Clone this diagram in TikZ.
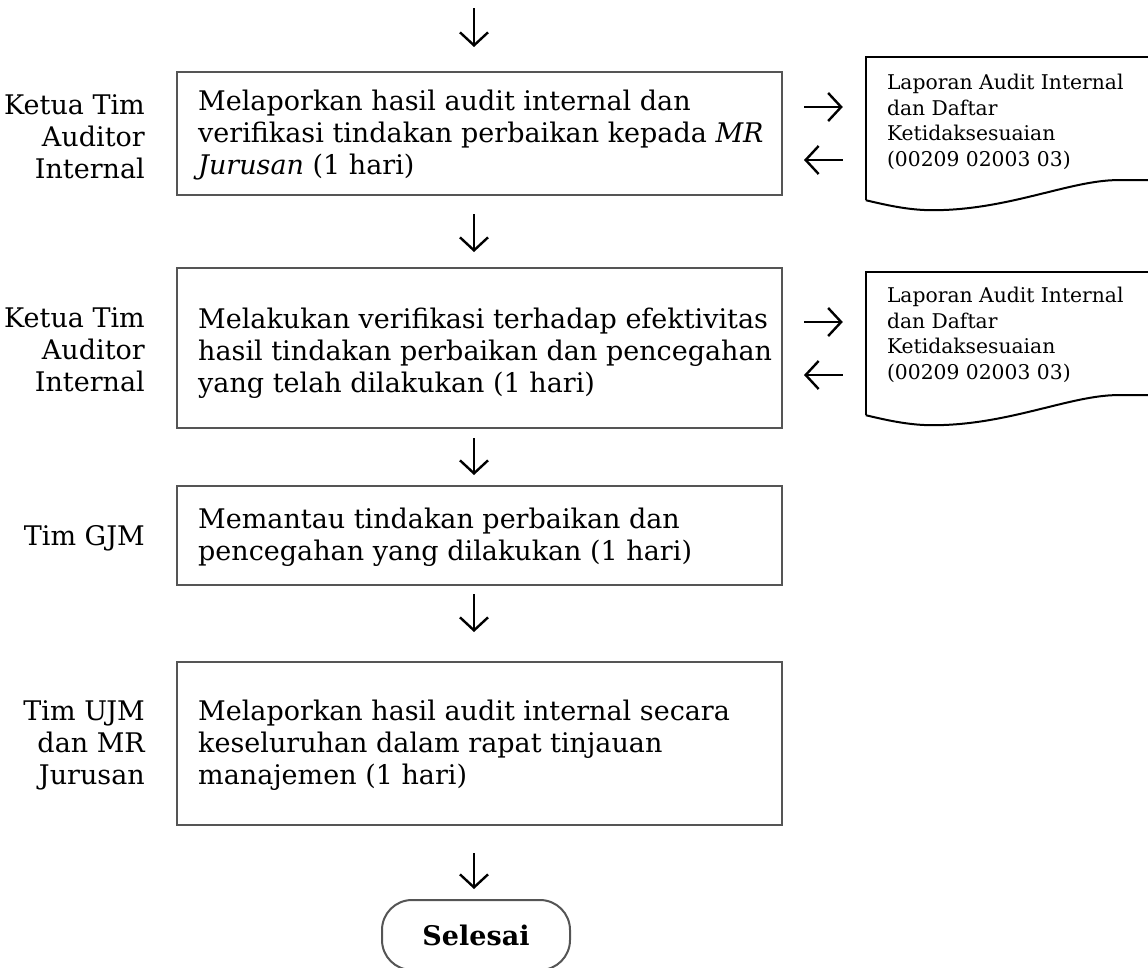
\documentclass[tikz,border=0pt]{standalone}
\usepackage{fontspec}
\setmainfont{DejaVu Serif}
\usetikzlibrary{arrows.meta,calc}
\definecolor{boxgray}{HTML}{555555}
\newcommand\mainsz{\fontsize{27}{32}\selectfont}
\newcommand\docsz{\fontsize{20.3}{25.7}\selectfont}
\begin{document}
\begin{tikzpicture}[x=1pt,y=-1pt,
  box/.style={draw=boxgray, line width=2pt, minimum width=605pt, inner sep=0pt},
  boxtext/.style={anchor=west, align=left, font=\mainsz, inner sep=0pt},
  lbl/.style={anchor=east, align=right, font=\mainsz, inner sep=0pt},
  docarea/.style={minimum width=294pt, minimum height=143pt, inner sep=0pt},
  docline/.style={draw=black, line width=2pt},
  doctext/.style={anchor=west, align=left, font=\docsz, inner sep=0pt},
  arr/.style={line width=2.4pt, -{Straight Barb[length=13pt,width=28pt]}},
  term/.style={draw=boxgray, line width=2pt, rounded corners=30pt,
    minimum width=188pt, minimum height=70pt, font=\mainsz\bfseries}]
\useasboundingbox (0,0) rectangle (1148,967);

% process boxes
\node[box, minimum height=123pt] (b1) at (479.5,133.5) {};
\node[box, minimum height=160pt] (b2) at (479.5,348) {};
\node[box, minimum height=99pt] (b3) at (479.5,535.5) {};
\node[box, minimum height=163pt] (b4) at (479.5,743.5) {};
\node[boxtext] (bt1) at ($(b1.west)+(22,2)$)
  {Melaporkan hasil audit internal dan\\verifikasi tindakan perbaikan kepada \textit{MR}\\\textit{Jurusan} (1 hari)};
\node[boxtext] (bt2) at ($(b2.west)+(22,5)$)
  {Melakukan verifikasi terhadap efektivitas\\hasil tindakan perbaikan dan pencegahan\\yang telah dilakukan (1 hari)};
\node[boxtext] (bt3) at ($(b3.west)+(22,2)$)
  {Memantau tindakan perbaikan dan\\pencegahan yang dilakukan (1 hari)};
\node[boxtext] (bt4) at ($(b4.west)+(22,2)$)
  {Melaporkan hasil audit internal secara\\keseluruhan dalam rapat tinjauan\\manajemen (1 hari)};
\node[term] (end) at (476,935) {Selesai};

% role labels
\node[lbl] (l1) at (145,137) {Ketua Tim\\Auditor\\Internal};
\node[lbl] (l2) at (145,350) {Ketua Tim\\Auditor\\Internal};
\node[lbl] (l3) at (145,538) {Tim GJM};
\node[lbl] (l4) at (145,745) {Tim UJM\\dan MR\\Jurusan};

% documents
\node[docarea] (d1) at (1013,128.5) {};
\node[docarea] (d2) at (1013,343.5) {};
\foreach \d in {d1,d2}{
  \draw[docline] (\d.south west) -- (\d.north west) -- (\d.north east);
  \draw[docline] (\d.south west) .. controls ($(\d.south west)+(25,6)$) and ($(\d.south west)+(45,10)$) ..
    ($(\d.south west)+(67,10)$) .. controls ($(\d.south west)+(140,10)$) and ($(\d.south west)+(200,-18)$) ..
    ($(\d.south west)+(247,-20)$) -- ($(\d.south west)+(300,-20)$);
}
\node[doctext] (t1) at ($(d1.north west)+(21,65)$) {Laporan Audit Internal\\dan Daftar\\Ketidaksesuaian\\(00209 02003 03)};
\node[doctext] (t2) at ($(d2.north west)+(21,63)$) {Laporan Audit Internal\\dan Daftar\\Ketidaksesuaian\\(00209 02003 03)};

% vertical connectors
\coordinate (start) at (474,8);
\draw[arr, shorten >=24pt] (start) -- (start |- b1.north);
\draw[arr, shorten <=18pt, shorten >=15pt] ([xshift=-5.5pt]b1.south) -- ([xshift=-5.5pt]b2.north);
\draw[arr, shorten <=9pt, shorten >=10pt] ([xshift=-5.5pt]b2.south) -- ([xshift=-5.5pt]b3.north);
\draw[arr, shorten <=8pt, shorten >=29pt] ([xshift=-5.5pt]b3.south) -- ([xshift=-5.5pt]b4.north);
\draw[arr, shorten <=27pt, shorten >=10pt] ([xshift=-5.5pt]b4.south) -- ([xshift=-5.5pt]b4.south |- end.north);

% horizontal connectors
\draw[arr, shorten <=21pt, shorten >=23pt] ([yshift=26.5pt]b1.east) -- ([yshift=26.5pt]b1.east -| d1.west);
\draw[arr, shorten <=23pt, shorten >=21pt] ([yshift=-26.5pt]b1.east -| d1.west) -- ([yshift=-26.5pt]b1.east);
\draw[arr, shorten <=21pt, shorten >=23pt] ([yshift=26pt]b2.east) -- ([yshift=26pt]b2.east -| d2.west);
\draw[arr, shorten <=23pt, shorten >=21pt] ([yshift=-27pt]b2.east -| d2.west) -- ([yshift=-27pt]b2.east);
\end{tikzpicture}
\end{document}
